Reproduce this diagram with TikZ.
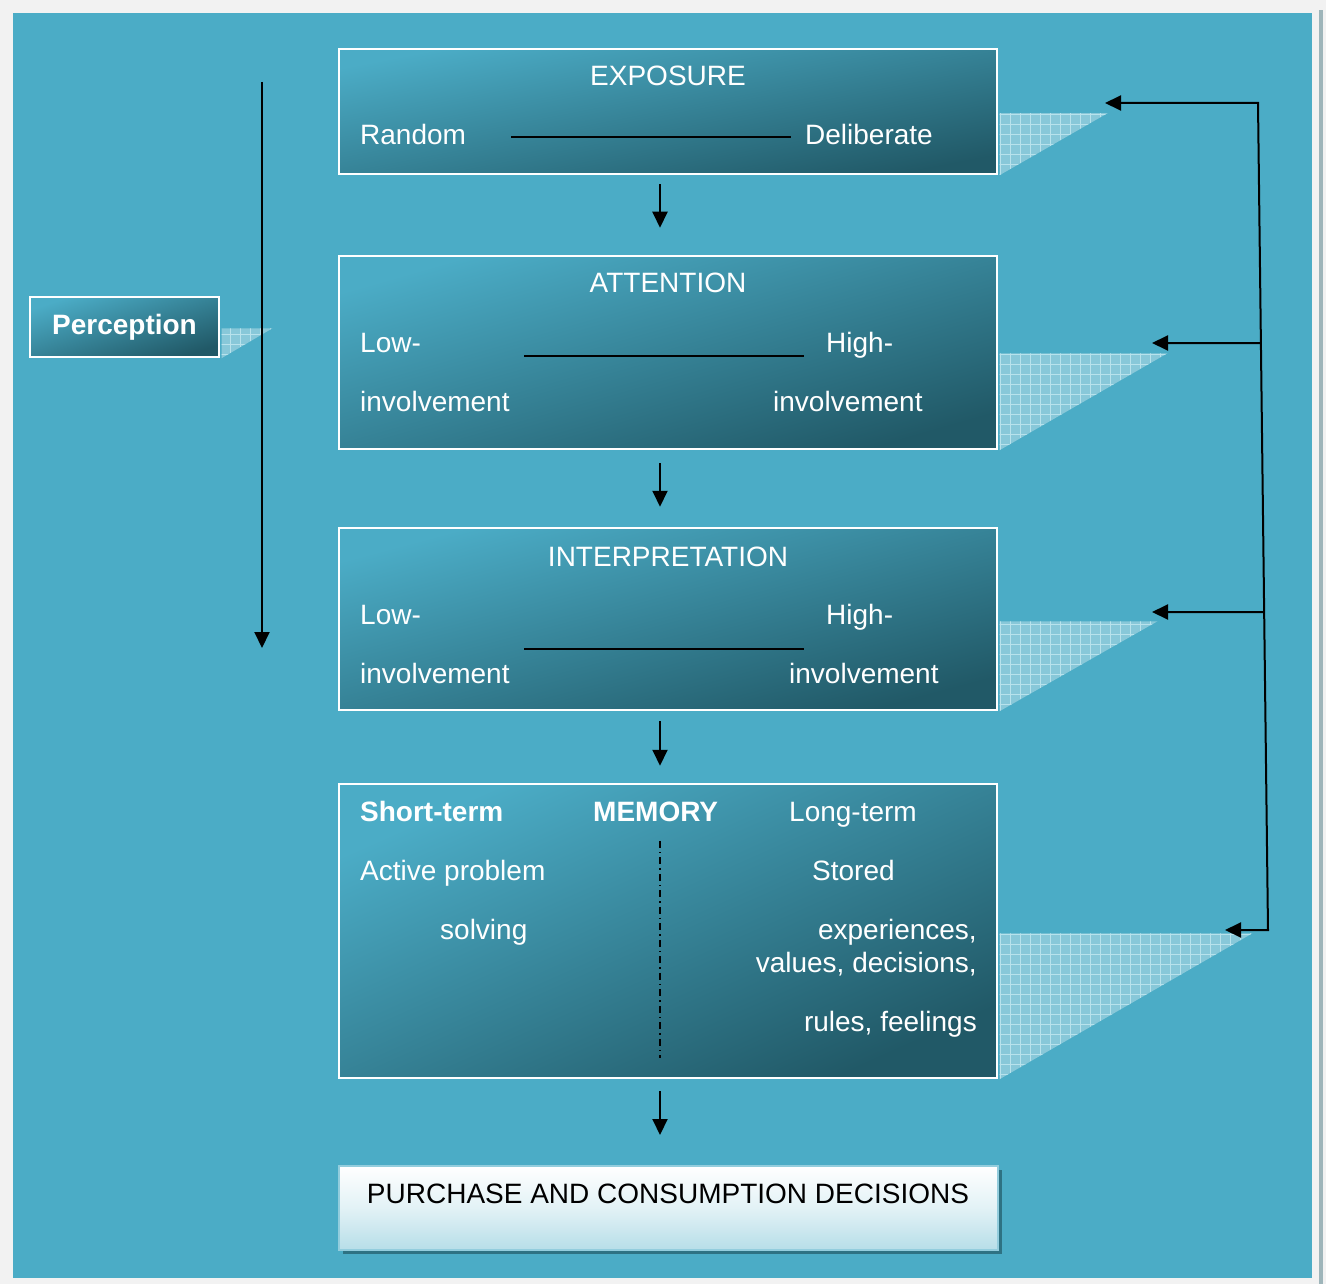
\documentclass[tikz,border=0pt]{standalone}
\usepackage{fontspec}
\setmainfont{Liberation Sans}
\usetikzlibrary{arrows.meta,calc,patterns.meta,shadows}
\definecolor{sheet}{HTML}{F2F2F2}
\definecolor{aqua}{HTML}{4BACC6}
\definecolor{aquadeep}{HTML}{215967}
\definecolor{aqualight}{HTML}{B7DEE8}
\definecolor{aquaedge}{HTML}{93CDDD}
\definecolor{foldfill}{HTML}{88C8D9}
\definecolor{foldgrid}{HTML}{B8E2EC}
\tikzset{
    stage-box/.style = {draw=white, line width=2.5pt, rectangle, inner sep=0pt, minimum width=658pt, top color=aqua, bottom color=aquadeep, shading angle=#1},
    stage-box/.default = 15,
    stage-text/.style = {text=white, font=\fontsize{28}{34}\selectfont, inner sep=0pt},
    flow/.style = {line width=2pt, -{Triangle[length=16pt,width=15pt]}},
    fold/.style = {preaction={fill=foldfill}, pattern={Hatch[angle=0,distance=10pt,line width=0.8pt]}, pattern color=foldgrid},
}

\begin{document}
\begin{tikzpicture}[x=1pt,y=-1pt]
\useasboundingbox (0,0) rectangle (1326,1284);
\fill[sheet] (0,0) rectangle (1326,1284);
\fill[aqua] (13,13) rectangle (1312,1278);
\fill[aquadeep!40!sheet] (1319,10) rectangle (1323,1284);

% stages
\node[stage-box=11, minimum height=125pt] (exposure) at (668,111.5) {};
\node[stage-box=16, minimum height=193pt] (attention) at (668,352.5) {};
\node[stage-box=15, minimum height=182pt] (interpretation) at (668,619) {};
\node[stage-box=24, minimum height=294pt] (memory) at (668,931) {};
\node[draw=aquaedge, line width=2pt, rectangle, inner sep=0pt, minimum width=659pt, minimum height=84pt,
      top color=white, bottom color=aqualight, middle color=white!60!aqualight,
      drop shadow={shadow xshift=4pt, shadow yshift=-4pt, fill=aquadeep!70!aqua, opacity=1}] (purchase) at (668.5,1208) {};
\node[stage-box=18, minimum width=189pt, minimum height=60pt, text=white, font=\fontsize{28}{34}\selectfont\bfseries] (perception) at (124.5,327) {Perception};

% folds behind the boxes
\path[fold] ([xshift=1.25pt]exposure.south east) -- ++(0,-62) -- ++(108,0) -- cycle;
\path[fold] ([xshift=1.25pt]attention.south east) -- ++(0,-97) -- ++(168,0) -- cycle;
\path[fold] ([xshift=1.25pt]interpretation.south east) -- ++(0,-90) -- ++(158,0) -- cycle;
\path[fold] ([xshift=1.25pt]memory.south east) -- ++(0,-146) -- ++(253,0) -- cycle;
\path[fold] ([xshift=1.25pt]perception.south east) -- ++(0,-30) -- ++(51,0) -- cycle;

% texts
\node[stage-text, anchor=base] (exposure-title) at (668,86) {EXPOSURE};
\node[stage-text, anchor=base west] (random) at (360,145) {Random};
\node[stage-text, anchor=base west] (deliberate) at (805,145) {Deliberate};
\draw[line width=1.5pt] ($(random.base east)+(45,-8)$) -- ($(deliberate.base west)+(-14,-8)$);

\node[stage-text, anchor=base] (attention-title) at (668,293) {ATTENTION};
\node[stage-text, anchor=base west] (attention-low) at (360,352) {Low-};
\node[stage-text, anchor=base west] (attention-high) at (826,352) {High-};
\node[stage-text, anchor=base west] (attention-low2) at (360,411) {involvement};
\node[stage-text, anchor=base west] (attention-high2) at (773,411) {involvement};
\draw[line width=1.5pt] ($(attention-low.base east)+(103,4)$) -- ($(attention-high.base west)+(-22,4)$);

\node[stage-text, anchor=base] (interpretation-title) at (668,566) {INTERPRETATION};
\node[stage-text, anchor=base west] (interpretation-low) at (360,624) {Low-};
\node[stage-text, anchor=base west] (interpretation-high) at (826,624) {High-};
\node[stage-text, anchor=base west] (interpretation-low2) at (360,683) {involvement};
\node[stage-text, anchor=base west] (interpretation-high2) at (789,683) {involvement};
\draw[line width=1.5pt] ($(interpretation-low.base east)+(103,25)$) -- ($(interpretation-high.base west)+(-22,25)$);

\node[stage-text, anchor=base west, font=\fontsize{28}{34}\selectfont\bfseries] (short-term) at (360,821) {Short-term};
\node[stage-text, anchor=base west, font=\fontsize{28}{34}\selectfont\bfseries] (memory-title) at (593,821) {MEMORY};
\node[stage-text, anchor=base west] (long-term) at (789,821) {Long-term};
\node[stage-text, anchor=base west] (active) at (360,880) {Active problem};
\node[stage-text, anchor=base west] (solving) at (440,939) {solving};
\node[stage-text, anchor=base west] (stored) at (812,880) {Stored};
\node[stage-text, anchor=base east] (experiences) at (977,939) {experiences,};
\node[stage-text, anchor=base east] (values) at (977,972) {values, decisions,};
\node[stage-text, anchor=base east] (rules) at (977,1031) {rules, feelings};
\draw[line width=1.5pt, dash pattern=on 7pt off 4pt on 1.5pt off 4pt] ($(memory.north)+(-8,58)$) -- ($(memory.south)+(-8,-21)$);

\node[stage-text, text=black, anchor=base] (purchase-title) at (668,1203) {PURCHASE AND CONSUMPTION DECISIONS};

% flow between stages
\draw[flow] ($(exposure.south)+(-8,9)$) -- ($(attention.north)+(-8,-27)$);
\draw[flow] ($(attention.south)+(-8,13)$) -- ($(interpretation.north)+(-8,-20)$);
\draw[flow] ($(interpretation.south)+(-8,10)$) -- ($(memory.north)+(-8,-17)$);
\draw[flow] ($(memory.south)+(-8,12)$) -- ($(purchase.north)+(-8.5,-30)$);

% perception span
\coordinate (perception-top) at (262,82);
\coordinate (perception-end) at (262,648);
\draw[flow] (perception-top) -- (perception-end);

% feedback loop
\coordinate (loop-top) at (1258,103);
\coordinate (loop-bottom) at (1268,930);
\coordinate (exposure-tip) at (1105,103);
\coordinate (attention-tip) at (1152,343);
\coordinate (interpretation-tip) at (1152,612);
\coordinate (memory-tip) at (1225,930);
\draw[line width=2pt, {Triangle[length=16pt,width=15pt]}-{Triangle[length=16pt,width=15pt]}] (memory-tip) -- (loop-bottom) -- (loop-top) -- (exposure-tip);
\draw[flow] ($(loop-top)!0.2902!(loop-bottom)$) -- (attention-tip);
\draw[flow] ($(loop-top)!0.6155!(loop-bottom)$) -- (interpretation-tip);
\end{tikzpicture}
\end{document}
